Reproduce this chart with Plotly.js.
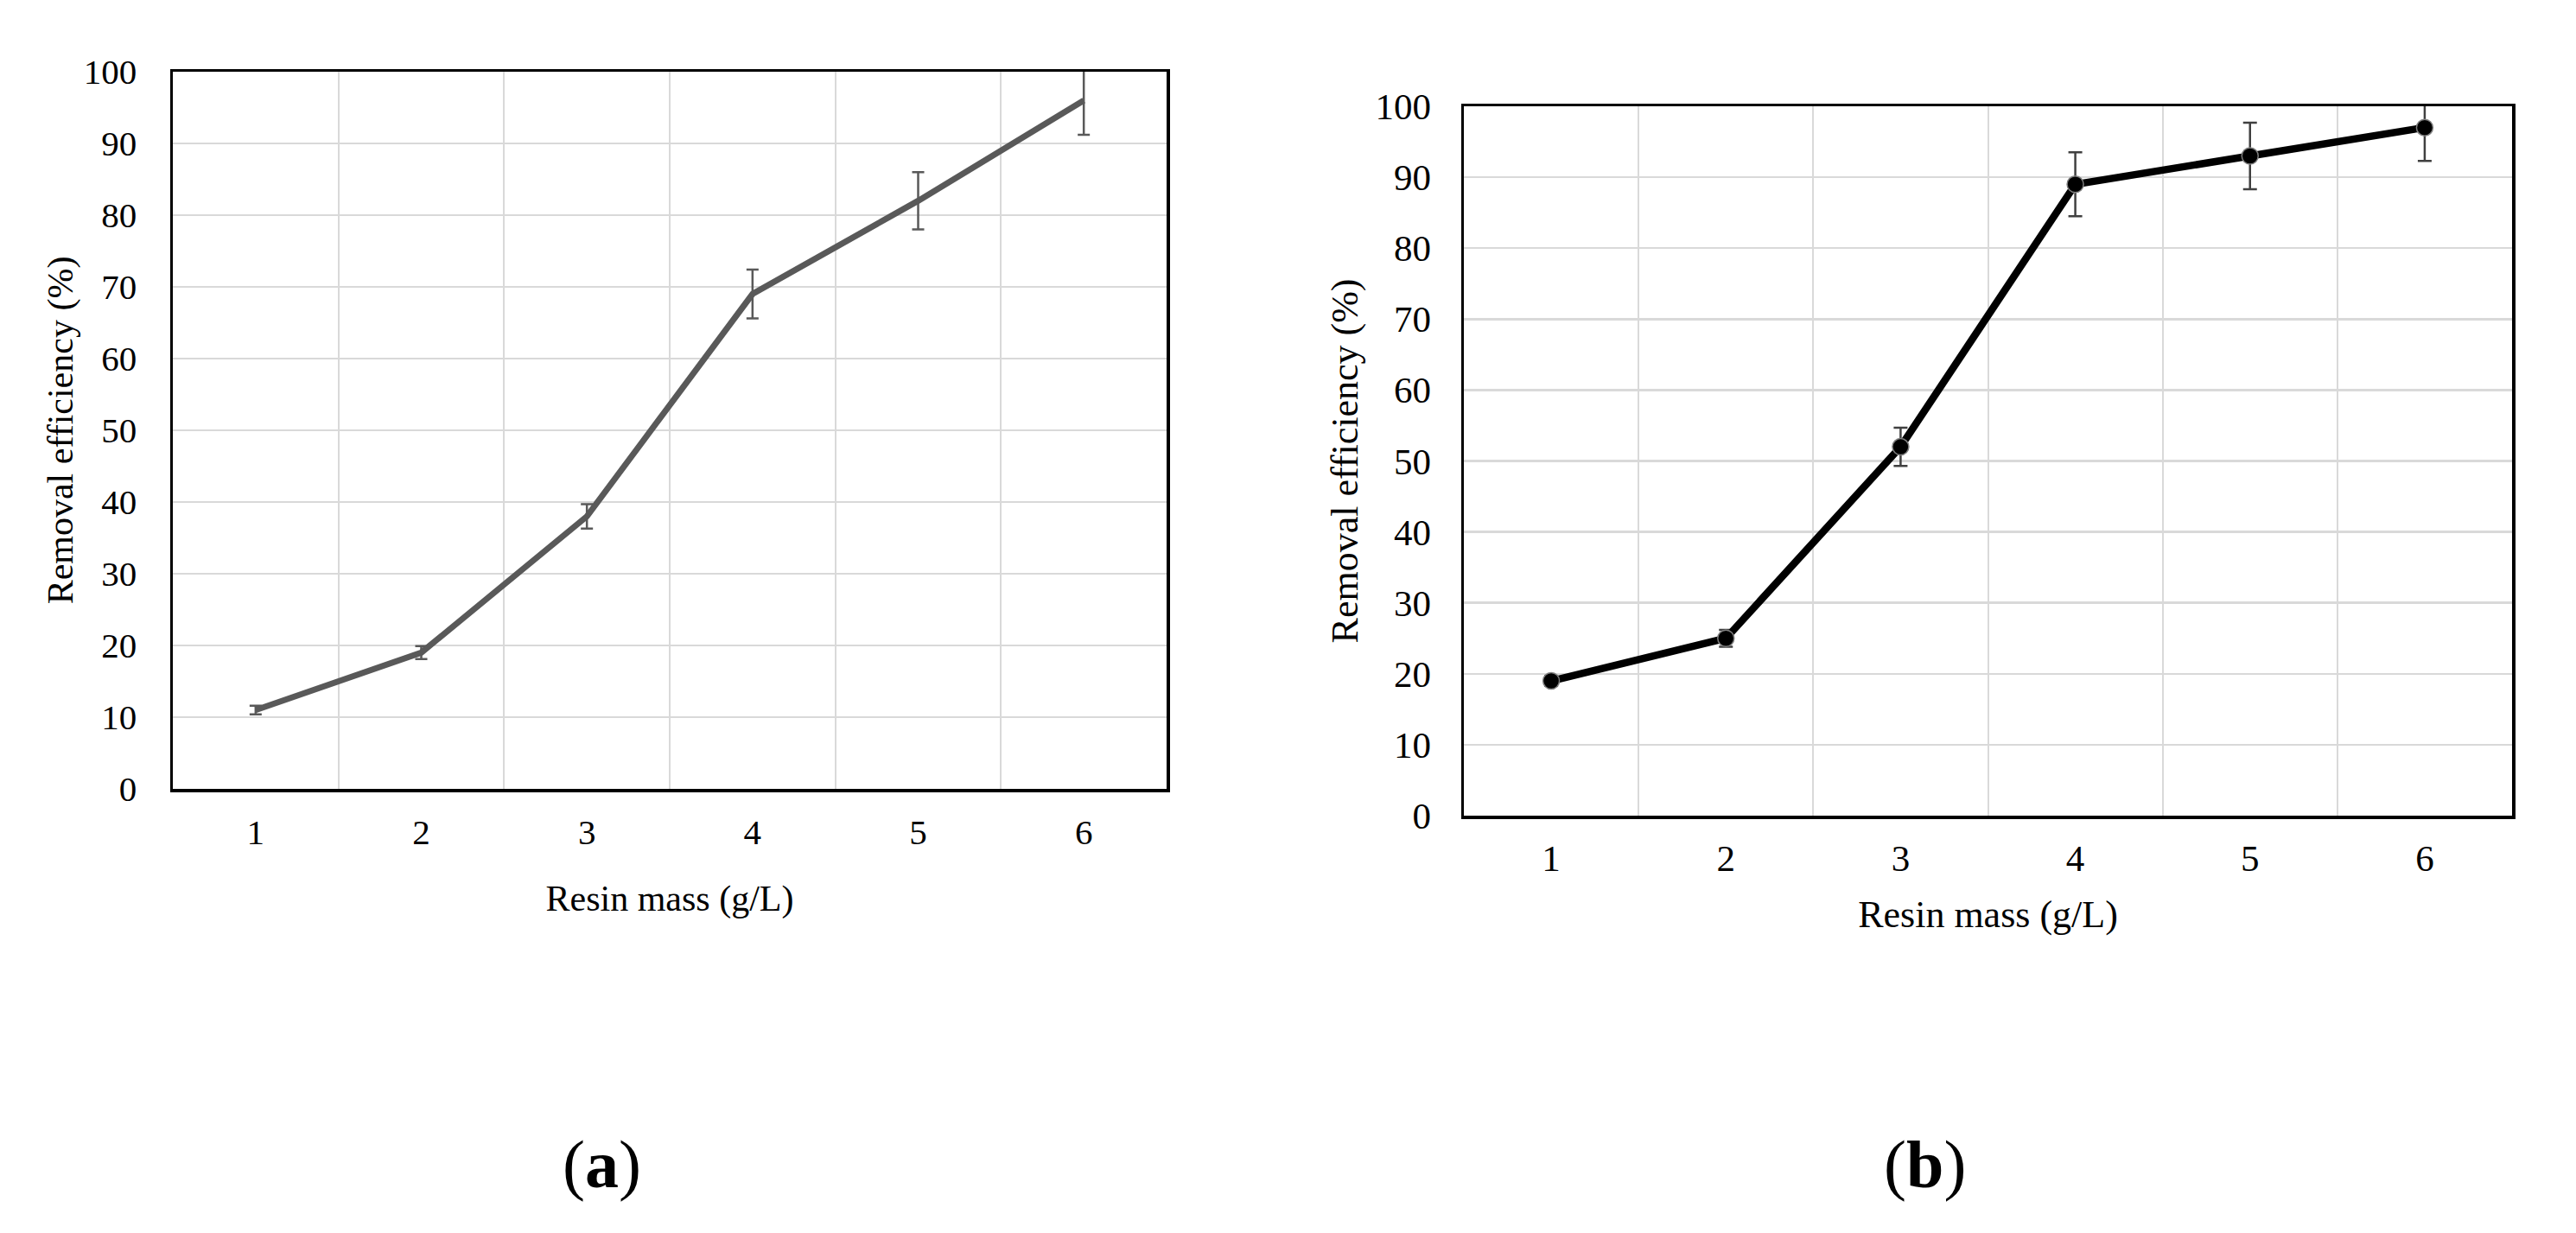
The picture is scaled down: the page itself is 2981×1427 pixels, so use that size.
<!DOCTYPE html>
<html>
<head>
<meta charset="utf-8">
<script src="https://cdn.plot.ly/plotly-3.0.1.min.js"></script>
<style>
  html, body { margin: 0; padding: 0; background: #ffffff; }
  #chart { width: 2981px; height: 1427px; }
</style>
</head>
<body>
<div id="chart"></div>
<script>
// ---- data ----
const resinMass = ["1", "2", "3", "4", "5", "6"];
const removalA = [11, 19, 38, 69, 82, 96];
const errorA = [0.6, 0.9, 1.7, 3.4, 4.0, 4.8];
const removalB = [19, 25, 52, 89, 93, 97];
const errorB = [0.7, 1.2, 2.7, 4.5, 4.7, 4.7];
const yTicks = [0, 10, 20, 30, 40, 50, 60, 70, 80, 90, 100];
const xTitle = "Resin mass (g/L)";
const yTitle = "Removal efficiency (%)";
const panelLabels = ["(<b>a</b>)", "(<b>b</b>)"];

const FONT = '"Liberation Serif", "Times New Roman", serif';

const traceA = {
  x: resinMass, y: removalA, type: "scatter", mode: "lines",
  xaxis: "x", yaxis: "y",
  line: { color: "#595959", width: 7 },
  error_y: { type: "data", array: errorA, visible: true, color: "#595959", thickness: 2.5, width: 7 },
  showlegend: false, hoverinfo: "skip"
};
const traceB = {
  x: resinMass, y: removalB, type: "scatter", mode: "lines+markers",
  xaxis: "x2", yaxis: "y2",
  line: { color: "#000000", width: 8.5 },
  marker: { symbol: "circle", size: 19, color: "#000000", line: { color: "#7f7f7f", width: 1.5 } },
  error_y: { type: "data", array: errorB, visible: true, color: "#404040", thickness: 2.5, width: 8 },
  showlegend: false, hoverinfo: "skip"
};

function xAxis(domain, anchor, fs, titleFs, standoff, titleStandoff) {
  return {
    domain: domain, anchor: anchor, type: "category",
    range: [-0.5, 5.5], autorange: false,
    tickson: "boundaries", ticks: "",
    showgrid: true, gridcolor: "#d9d9d9", gridwidth: 2,
    showline: true, linecolor: "#000000", linewidth: 3.5, mirror: true,
    zeroline: false, fixedrange: true,
    tickfont: { family: FONT, size: fs, color: "#000000" },
    ticklabelstandoff: standoff,
    title: { text: xTitle, font: { family: FONT, size: titleFs, color: "#000000" }, standoff: titleStandoff }
  };
}
function yAxis(domain, anchor, fs, titleFs, standoff, titleStandoff) {
  return {
    domain: domain, anchor: anchor, range: [0, 100], autorange: false,
    tickmode: "array", tickvals: yTicks, ticktext: yTicks.map(String), ticks: "",
    showgrid: true, gridcolor: "#d9d9d9", gridwidth: 2.5,
    showline: true, linecolor: "#000000", linewidth: 3.5, mirror: true,
    zeroline: false, fixedrange: true,
    tickfont: { family: FONT, size: fs, color: "#000000" },
    ticklabelstandoff: standoff,
    title: { text: yTitle, font: { family: FONT, size: titleFs, color: "#000000" }, standoff: titleStandoff }
  };
}

const layout = {
  width: 2981, height: 1427,
  margin: { l: 0, r: 0, t: 0, b: 0 },
  paper_bgcolor: "#ffffff", plot_bgcolor: "#ffffff",
  font: { family: FONT, color: "#000000" },
  xaxis: xAxis([200 / 2981, 1350 / 2981], "y", 41, 42, 11, 41),
  yaxis: yAxis([1 - 913 / 1427, 1 - 83 / 1427], "x", 41, 42, 30, 0),
  xaxis2: xAxis([1694 / 2981, 2907 / 2981], "y2", 43, 44, 9, 27),
  yaxis2: yAxis([1 - 944 / 1427, 1 - 123 / 1427], "x2", 43, 44, 26, 7),
  annotations: [
    { text: panelLabels[0], xref: "paper", yref: "paper", x: 696 / 2981, y: 1 - 1347 / 1427,
      xanchor: "center", yanchor: "middle", showarrow: false,
      font: { family: FONT, size: 78, color: "#000000" } },
    { text: panelLabels[1], xref: "paper", yref: "paper", x: 2227 / 2981, y: 1 - 1347 / 1427,
      xanchor: "center", yanchor: "middle", showarrow: false,
      font: { family: FONT, size: 78, color: "#000000" } }
  ]
};

Plotly.newPlot("chart", [traceA, traceB], layout, { displayModeBar: false, staticPlot: true });
</script>
</body>
</html>
